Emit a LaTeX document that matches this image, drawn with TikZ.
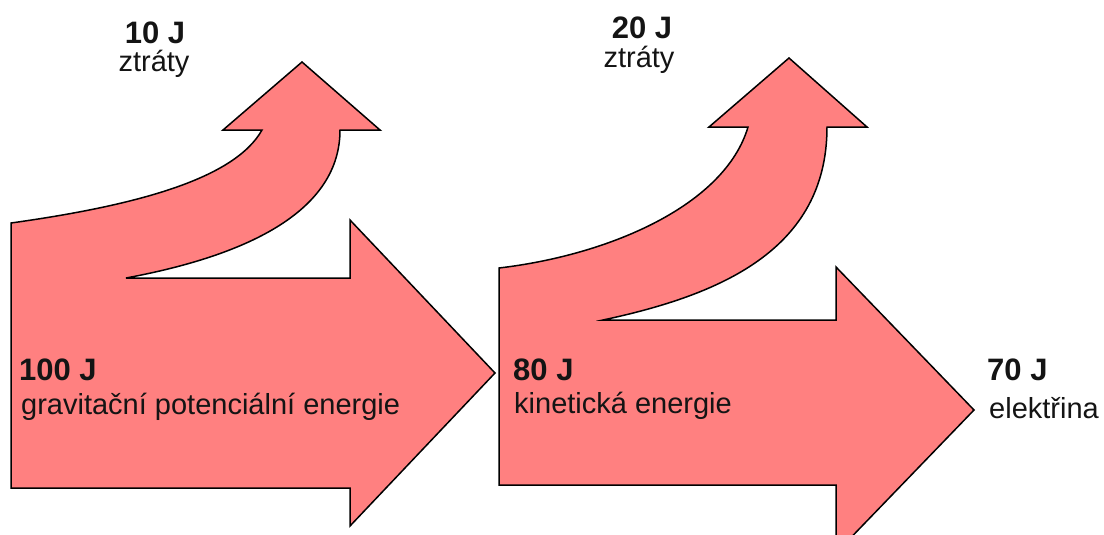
\documentclass[tikz,border=0pt]{standalone}
\usepackage{fontspec}
\setmainfont{Liberation Sans}
\definecolor{flowfill}{RGB}{255,128,128}
\definecolor{labeltext}{RGB}{20,20,20}
\begin{document}
\begin{tikzpicture}[x=1pt,y=-1pt,
  flow/.style={fill=flowfill,draw=black,line width=1.5pt,line join=miter},
  amount/.style={inner sep=0pt,text=labeltext,font=\fontsize{31}{31}\selectfont\bfseries},
  caption/.style={inner sep=0pt,text=labeltext,font=\fontsize{29}{29}\selectfont}]
  \useasboundingbox (0,0) rectangle (1104,535);
  \clip (0,0) rectangle (1104,535);

  % first stage: 100 J split into 10 J losses and 80 J onward
  \path[flow] (11,223) .. controls (140,205) and (235,178) .. (262,130)
    -- (223,130) -- (302,62) -- (380,130) -- (340,130)
    .. controls (340,210) and (250,255) .. (126,278)
    -- (350,278) -- (350,220) -- (495,373) -- (350,526) -- (350,488)
    -- (11,488) -- cycle;

  % second stage: 80 J split into 20 J losses and 70 J of electricity
  \path[flow] (499,268) .. controls (610,255) and (725,205) .. (748,127)
    -- (709,127) -- (789,58) -- (867,127) -- (827,127)
    .. controls (827,250) and (720,295) .. (603,320)
    -- (836,320) -- (836,267) -- (974,410) -- (836,553) -- (836,485)
    -- (499,485) -- cycle;

  % labels
  \node[amount,anchor=base] (lossA) at (155,44) {10 J};
  \node[caption,anchor=base] (lossAtxt) at (154,72) {ztráty};
  \node[amount,anchor=base] (lossB) at (642,39) {20 J};
  \node[caption,anchor=base] (lossBtxt) at (639,68) {ztráty};

  \node[amount,anchor=base west] (inA) at (19,380) {100 J};
  \node[caption,anchor=base west] (inAtxt) at (21,414) {gravitační potenciální energie};
  \node[amount,anchor=base west] (inB) at (513,380) {80 J};
  \node[caption,anchor=base west] (inBtxt) at (514,413) {kinetická energie};
  \node[amount,anchor=base west] (outC) at (987,380) {70 J};
  \node[caption,anchor=base west] (outCtxt) at (989,418) {elektřina};
\end{tikzpicture}
\end{document}
